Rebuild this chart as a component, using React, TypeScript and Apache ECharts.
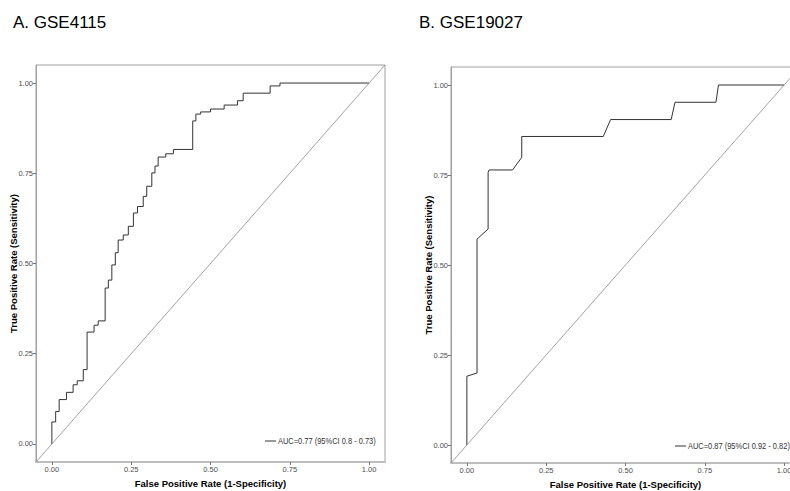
import React, { useEffect, useRef } from "react";
import * as echarts from "echarts";

const titles = ["A. GSE4115", "B. GSE19027"];
const aucLabels = ["AUC=0.77 (95%CI 0.8 - 0.73)", "AUC=0.87 (95%CI 0.92 - 0.82)"];
const tickValues = [0, 0.25, 0.5, 0.75, 1];

const leftFpr = [0, 0, 0.012, 0.012, 0.023, 0.023, 0.046, 0.046, 0.067, 0.067, 0.08, 0.08, 0.099, 0.099, 0.111, 0.111, 0.133, 0.133, 0.146, 0.146, 0.168, 0.168, 0.178, 0.178, 0.189, 0.189, 0.2, 0.2, 0.209, 0.209, 0.225, 0.225, 0.241, 0.241, 0.257, 0.257, 0.27, 0.27, 0.288, 0.288, 0.299, 0.299, 0.315, 0.315, 0.325, 0.325, 0.335, 0.335, 0.359, 0.359, 0.383, 0.383, 0.444, 0.444, 0.454, 0.454, 0.469, 0.469, 0.5, 0.5, 0.543, 0.543, 0.585, 0.585, 0.603, 0.603, 0.688, 0.688, 0.719, 0.719, 1];
const leftTpr = [0, 0.061, 0.061, 0.09, 0.09, 0.123, 0.123, 0.143, 0.143, 0.164, 0.164, 0.175, 0.175, 0.206, 0.206, 0.31, 0.31, 0.329, 0.329, 0.341, 0.341, 0.432, 0.432, 0.454, 0.454, 0.496, 0.496, 0.53, 0.53, 0.565, 0.565, 0.579, 0.579, 0.603, 0.603, 0.64, 0.64, 0.658, 0.658, 0.686, 0.686, 0.714, 0.714, 0.751, 0.751, 0.77, 0.77, 0.795, 0.795, 0.804, 0.804, 0.816, 0.816, 0.895, 0.895, 0.914, 0.914, 0.92, 0.92, 0.928, 0.928, 0.939, 0.939, 0.951, 0.951, 0.972, 0.972, 0.992, 0.992, 1, 1];

const rightFpr = [0, 0, 0.032, 0.032, 0.067, 0.067, 0.07, 0.144, 0.173, 0.173, 0.43, 0.453, 0.644, 0.656, 0.785, 0.793, 1];
const rightTpr = [0, 0.191, 0.2, 0.572, 0.6, 0.757, 0.764, 0.764, 0.799, 0.857, 0.857, 0.904, 0.904, 0.952, 0.952, 1, 1];

const diagX = [-0.05, 1.05];
const diagY = [-0.05, 1.05];

const zip = (a: number[], b: number[]) => a.map((v, i) => [v, b[i]]);

const SANS = "'Liberation Sans', Arial, sans-serif";

export default function App() {
  const ref = useRef<HTMLDivElement>(null);
  useEffect(() => {
    if (!ref.current) return;
    const chart = echarts.init(ref.current, null, { renderer: "svg" });
    const grids = [
      { left: 36, top: 65, width: 349, height: 397 },
      { left: 451, top: 67, width: 349, height: 396 },
    ];
    const axisCommon = (isX: boolean, gi: number) => ({
      type: "value",
      gridIndex: gi,
      min: -0.05,
      max: 1.05,
      name: isX ? "False Positive Rate (1-Specificity)" : "True Positive Rate (Sensitivity)",
      nameLocation: "middle",
      nameGap: isX ? 16 : 18,
      nameMoveOverlap: false,
      nameTextStyle: { fontFamily: SANS, fontWeight: "bold", fontSize: 9.5, color: "#000" },
      splitLine: { show: false },
      axisLine: {
        show: true,
        onZero: false,
        lineStyle: { color: isX ? "#bdbdbd" : "#a0a0a0", width: isX ? 2 : 1 },
      },
      axisTick: {
        show: true,
        length: 3,
        customValues: tickValues,
        lineStyle: { color: "#777", width: 1 },
      },
      axisLabel: {
        customValues: tickValues,
        formatter: (v: number) => v.toFixed(2),
        fontFamily: SANS,
        fontSize: 7.5,
        color: "#4d4d4d",
        margin: 3,
        hideOverlap: false,
      },
    });
    const rocData = [zip(leftFpr, leftTpr), zip(rightFpr, rightTpr)];
    const series: any[] = [];
    [0, 1].forEach((gi) => {
      series.push({
        type: "line",
        name: aucLabels[gi],
        xAxisIndex: gi,
        yAxisIndex: gi,
        data: rocData[gi],
        showSymbol: false,
        symbol: "none",
        lineStyle: { color: "#333333", width: 1 },
        itemStyle: { color: "#333333" },
        clip: true,
      });
      series.push({
        type: "line",
        name: "diag" + gi,
        xAxisIndex: gi,
        yAxisIndex: gi,
        data: zip(diagX, diagY),
        showSymbol: false,
        symbol: "none",
        lineStyle: { color: "#8a8a8a", width: 0.8 },
        clip: true,
      });
    });
    const legendPos = [
      { x: 265, y: 441 },
      { x: 675, y: 446 },
    ];
    const graphic: any[] = [];
    legendPos.forEach((p, i) => {
      graphic.push({
        type: "line",
        shape: { x1: p.x, y1: p.y, x2: p.x + 11, y2: p.y },
        style: { stroke: "#333", lineWidth: 1 },
        silent: true,
      });
      graphic.push({
        type: "text",
        x: p.x + 13,
        y: p.y,
        scaleX: 0.83,
        style: {
          text: aucLabels[i],
          font: "9px 'Liberation Sans', Arial, sans-serif",
          fill: "#333",
          textVerticalAlign: "middle",
          verticalAlign: "middle",
        },
        silent: true,
      });
    });
    chart.setOption({
      animation: false,
      backgroundColor: "#ffffff",
      title: [
        { text: titles[0], left: 13, top: 14, padding: 0, textStyle: { fontFamily: SANS, fontSize: 17, fontWeight: "normal", color: "#000" } },
        { text: titles[1], left: 419, top: 14, padding: 0, textStyle: { fontFamily: SANS, fontSize: 17, fontWeight: "normal", color: "#000" } },
      ],
      grid: grids.map((g) => ({
        ...g,
        show: true,
        borderColor: "#a0a0a0",
        borderWidth: 1,
        backgroundColor: "transparent",
        outerBoundsMode: "none",
        containLabel: false,
      })),
      xAxis: [axisCommon(true, 0), axisCommon(true, 1)],
      yAxis: [axisCommon(false, 0), axisCommon(false, 1)],
      graphic,
      series,
    });
    return () => chart.dispose();
  }, []);
  return <div ref={ref} style={{ position: "absolute", left: 0, top: 0, width: 790, height: 491 }} />;
}
